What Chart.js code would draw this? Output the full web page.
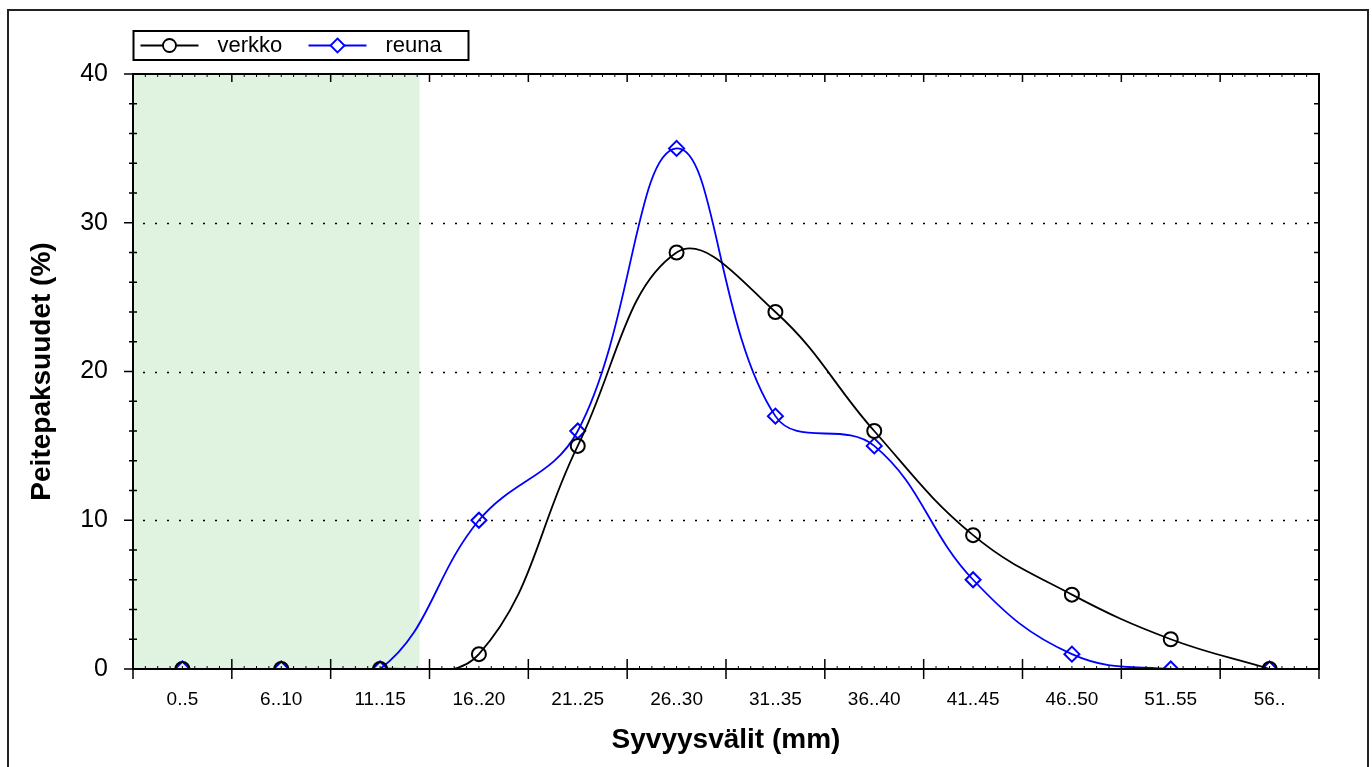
<!DOCTYPE html>
<html>
<head>
<meta charset="utf-8">
<script src="https://cdn.jsdelivr.net/npm/chart.js@4/dist/chart.umd.min.js"></script>
<style>
  html, body { margin: 0; padding: 0; background: #fff; }
  #wrap { width: 1372px; height: 767px; position: relative; }
</style>
</head>
<body>
<div id="wrap"><canvas id="c"></canvas></div>
<script>
// Syvyysvälit / peitepaksuudet
const categories = ['0..5', '6..10', '11..15', '16..20', '21..25', '26..30', '31..35', '36..40', '41..45', '46..50', '51..55', '56..'];
const verkko = [0, 0, 0, 1, 15, 28, 24, 16, 9, 5, 2, 0];
const reuna = [0, 0, 0, 10, 16, 35, 17, 15, 6, 1, 0, 0];
const yTicks = [0, 10, 20, 30, 40];
const gridValues = [10, 20, 30];
const shadeEnd = 2.4; // vihreä alue, kategoriaindeksinä

Chart.defaults.font.family = '"Liberation Sans", Arial, sans-serif';
Chart.defaults.color = '#000';

// vihreä tausta + pisteviivat
const backdrop = {
  id: 'backdrop',
  beforeDatasetsDraw(chart) {
    const { ctx, chartArea: a, scales: { x, y } } = chart;
    ctx.save();
    ctx.fillStyle = '#e0f3e0';
    const x1 = x.getPixelForValue(shadeEnd);
    ctx.fillRect(a.left, a.top, x1 - a.left, a.bottom - a.top);
    ctx.strokeStyle = '#000';
    ctx.lineWidth = 1.5;
    ctx.setLineDash([2, 10]);
    gridValues.forEach(v => {
      const py = Math.round(y.getPixelForValue(v)) + 0.5;
      ctx.beginPath();
      ctx.moveTo(a.left + 10, py);
      ctx.lineTo(a.right, py);
      ctx.stroke();
    });
    ctx.restore();
  }
};

// akselit, tikit, selite, reunus
const frame = {
  id: 'frame',
  afterDraw(chart) {
    const { ctx, chartArea: a, scales: { x, y } } = chart;
    ctx.save();
    ctx.strokeStyle = '#000';
    ctx.lineWidth = 2;
    ctx.strokeRect(a.left, a.top, a.right - a.left, a.bottom - a.top);

    // y-tikit
    ctx.lineWidth = 1.5;
    for (let v = 0; v <= 40; v += 2) {
      const py = y.getPixelForValue(v);
      ctx.beginPath();
      if (v % 10 === 0) {
        ctx.moveTo(a.left - 9, py); ctx.lineTo(a.left, py);
      } else {
        ctx.moveTo(a.left - 4, py); ctx.lineTo(a.left + 4, py);
      }
      ctx.moveTo(a.right - 5, py); ctx.lineTo(a.right, py);
      ctx.stroke();
    }
    // x-tikit
    for (let i = 0; i <= categories.length; i++) {
      const px = x.getPixelForValue(i - 0.5);
      ctx.beginPath();
      ctx.moveTo(px, a.bottom - 10); ctx.lineTo(px, a.bottom + 10);
      ctx.moveTo(px, a.top); ctx.lineTo(px, a.top + 8);
      ctx.stroke();
      if (i < categories.length) {
        ctx.lineWidth = 1;
        for (let k = 1; k < 8; k++) {
          const mx = x.getPixelForValue(i - 0.5 + k / 8);
          ctx.beginPath();
          ctx.moveTo(mx, a.top); ctx.lineTo(mx, a.top + 3);
          ctx.moveTo(mx, a.bottom); ctx.lineTo(mx, a.bottom - 3);
          ctx.stroke();
        }
        ctx.lineWidth = 1.5;
      }
    }

    // selite
    const lx = a.left + 0.5, ly = 31;
    ctx.lineWidth = 2;
    ctx.strokeRect(lx, ly, 335, 29);
    const cy = ly + 14.5;
    const starts = [lx + 7, lx + 175];
    ctx.font = '22px "Liberation Sans", Arial, sans-serif';
    ctx.textBaseline = 'middle';
    chart.data.datasets.forEach((ds, i) => {
      const sx = starts[i];
      ctx.strokeStyle = ds.borderColor;
      ctx.lineWidth = 1.8;
      ctx.beginPath();
      ctx.moveTo(sx, cy); ctx.lineTo(sx + 58, cy);
      ctx.stroke();
      const mx = sx + 29;
      ctx.fillStyle = '#fff';
      ctx.beginPath();
      if (ds.pointStyle === 'circle') {
        ctx.arc(mx, cy, 6.5, 0, Math.PI * 2);
      } else {
        ctx.moveTo(mx, cy - 7); ctx.lineTo(mx + 7, cy); ctx.lineTo(mx, cy + 7); ctx.lineTo(mx - 7, cy); ctx.closePath();
      }
      ctx.fill();
      ctx.stroke();
      ctx.fillStyle = '#000';
      ctx.fillText(ds.label, sx + 77, cy);
    });

    // ulkoreunus
    ctx.strokeStyle = '#222';
    ctx.lineWidth = 2;
    ctx.strokeRect(8, 10, 1360, 790);
    ctx.restore();
  }
};

new Chart(document.getElementById('c'), {
  type: 'line',
  data: {
    labels: categories,
    datasets: [
      {
        label: 'verkko',
        data: verkko,
        borderColor: '#000',
        borderWidth: 1.8,
        pointStyle: 'circle',
        pointRadius: 7,
        pointBorderWidth: 2,
        pointBackgroundColor: 'rgba(255,255,255,0)',
        pointBorderColor: '#000',
        tension: 0.4,
        capBezierPoints: false
      },
      {
        label: 'reuna',
        data: reuna,
        borderColor: '#0000ff',
        borderWidth: 1.8,
        pointStyle: 'rectRot',
        pointRadius: 7.5,
        pointBorderWidth: 2,
        pointBackgroundColor: 'rgba(255,255,255,0)',
        pointBorderColor: '#0000ff',
        tension: 0.4,
        capBezierPoints: false
      }
    ]
  },
  options: {
    responsive: true,
    maintainAspectRatio: false,
    animation: false,
    layout: { padding: { top: 74, right: 53, left: 0, bottom: 0 } },
    plugins: { legend: { display: false }, tooltip: { enabled: false } },
    scales: {
      x: {
        type: 'category',
        offset: true,
        grid: { display: false },
        border: { display: false },
        ticks: { font: { size: 19 }, padding: 11, maxRotation: 0, autoSkip: false },
        title: {
          display: true,
          text: 'Syvyysvälit (mm)',
          font: { size: 28, weight: 'bold', lineHeight: 1.2 },
          padding: { top: 0, bottom: 10 }
        },
        afterFit(s) { s.height = 98; }
      },
      y: {
        min: 0,
        max: 40,
        grid: { display: false },
        border: { display: false },
        afterBuildTicks(s) { s.ticks = yTicks.map(v => ({ value: v })); },
        ticks: { font: { size: 25 }, padding: 17 },
        title: {
          display: true,
          text: 'Peitepaksuudet (%)',
          font: { size: 28, weight: 'bold', lineHeight: 1.2 },
          padding: { top: 25, bottom: 0 }
        },
        afterFit(s) { s.width = 133; }
      }
    }
  },
  plugins: [backdrop, frame]
});
</script>
</body>
</html>
